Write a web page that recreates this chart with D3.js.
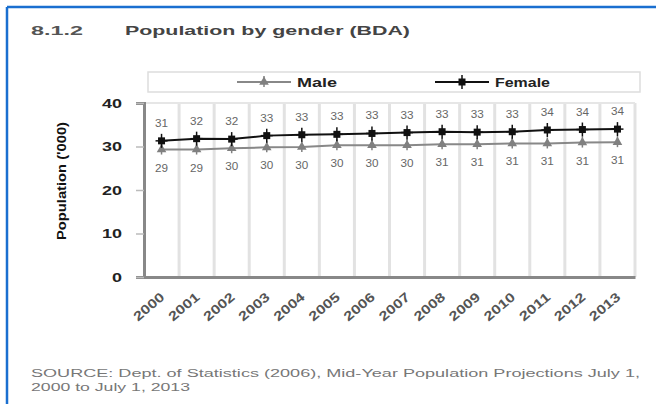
<!DOCTYPE html>
<html><head><meta charset="utf-8">
<script src="https://cdn.jsdelivr.net/npm/d3@7"></script>
<style>
html,body{margin:0;padding:0;background:#fff;}
svg{display:block;font-family:"Liberation Sans",Arial,sans-serif;}
</style></head>
<body>
<script>
const years = ["2000","2001","2002","2003","2004","2005","2006","2007","2008","2009","2010","2011","2012","2013"];
const male = [29.3, 29.3, 29.6, 29.8, 29.9, 30.3, 30.3, 30.3, 30.5, 30.5, 30.7, 30.7, 30.9, 31.0];
const female = [31.3, 31.8, 31.7, 32.5, 32.7, 32.8, 33.0, 33.2, 33.4, 33.3, 33.4, 33.8, 33.9, 34.0];
const yTicks = [0, 10, 20, 30, 40];
const seriesNames = ["Male", "Female"];

const W = 656, H = 404;
const svg = d3.select("body").append("svg").attr("width", W).attr("height", H);

// blue frame (top & left)
svg.append("line").attr("x1",7).attr("x2",W).attr("y1",7).attr("y2",7).attr("stroke","#1a6fd0").attr("stroke-width",2.5);
svg.append("line").attr("x1",7).attr("x2",7).attr("y1",7).attr("y2",H).attr("stroke","#1a6fd0").attr("stroke-width",2.5);

// title
svg.append("text").attr("x",31).attr("y",35).attr("font-size",13).attr("font-weight","bold").attr("fill","#555")
  .attr("textLength",52).attr("lengthAdjust","spacingAndGlyphs").text("8.1.2");
svg.append("text").attr("x",125).attr("y",35).attr("font-size",13).attr("font-weight","bold").attr("fill","#444")
  .attr("textLength",285).attr("lengthAdjust","spacingAndGlyphs").text("Population by gender (BDA)");

const m = {l:144, r:635, t:103, b:277};
const x = d3.scaleBand().domain(years).range([m.l, m.r]);
const y = d3.scaleLinear().domain([0,40]).range([m.b, m.t]);
const cx = d => x(d) + x.bandwidth()/2;

// vertical gridlines
const g = svg.append("g");
g.selectAll("line.vg").data(years).enter().append("line")
  .attr("x1", d => x(d) + x.bandwidth()).attr("x2", d => x(d) + x.bandwidth())
  .attr("y1", m.t).attr("y2", m.b).attr("stroke","#e2e2e2").attr("stroke-width",3);
g.append("line").attr("x1",m.l).attr("x2",m.r).attr("y1",m.t).attr("y2",m.t).attr("stroke","#e6e6e6").attr("stroke-width",2);

// y axis
const yAxis = d3.axisLeft(y).tickValues(yTicks).tickSize(8).tickPadding(14);
const ya = svg.append("g").attr("transform",`translate(${m.l},0)`).call(yAxis);
ya.select(".domain").attr("stroke","#888").attr("stroke-width",3);
ya.selectAll(".tick line").attr("stroke","#bbb").attr("stroke-width",1.5);
ya.selectAll(".tick text").attr("font-size",13).attr("font-weight","bold").attr("fill","#222").attr("font-family","Liberation Sans, Arial, sans-serif")
  .each(function(d){ d3.select(this).attr("textLength", String(d).length*10).attr("lengthAdjust","spacingAndGlyphs"); });

// x axis
const xAxis = d3.axisBottom(x).tickSize(0).tickPadding(0);
const xa = svg.append("g").attr("transform",`translate(0,${m.b})`).call(xAxis);
xa.select(".domain").attr("stroke","#888").attr("stroke-width",3);
xa.selectAll(".tick text")
  .attr("font-size",13).attr("font-weight","bold").attr("fill","#555").attr("font-family","Liberation Sans, Arial, sans-serif")
  .attr("text-anchor","end").attr("dy","0.35em")
  .attr("textLength",36).attr("lengthAdjust","spacingAndGlyphs")
  .attr("transform","translate(1,18) rotate(-40)");

// y axis title
svg.append("text").attr("transform",`translate(66,${(m.t+m.b)/2 - 9}) rotate(-90)`)
  .attr("text-anchor","middle").attr("font-size",12).attr("font-weight","bold").attr("fill","#111")
  .attr("textLength",118).attr("lengthAdjust","spacingAndGlyphs")
  .text("Population ('000)");

// lines
const line = d3.line().x((d,i) => cx(years[i])).y(d => y(d));
svg.append("path").datum(male).attr("d",line).attr("fill","none").attr("stroke","#888").attr("stroke-width",2);
svg.append("path").datum(female).attr("d",line).attr("fill","none").attr("stroke","#111").attr("stroke-width",2);

const tri = d3.symbol().type(d3.symbolTriangle).size(40);
function maleMarker(sel){
  sel.append("path").attr("d", tri()).attr("fill","#808080");
  sel.append("line").attr("x1",0).attr("x2",0).attr("y1",-6).attr("y2",5).attr("stroke","#808080").attr("stroke-width",1.5);
}
function femaleMarker(sel){
  sel.append("rect").attr("x",-3.5).attr("y",-3.5).attr("width",7).attr("height",7).attr("fill","#111");
  sel.append("line").attr("x1",0).attr("x2",0).attr("y1",-7).attr("y2",7).attr("stroke","#111").attr("stroke-width",1.5);
  sel.append("line").attr("x1",-6).attr("x2",6).attr("y1",0).attr("y2",0).attr("stroke","#111").attr("stroke-width",1.5);
}
svg.selectAll("g.mm").data(male).enter().append("g")
  .attr("transform",(d,i)=>`translate(${cx(years[i])},${y(d)})`).each(function(){maleMarker(d3.select(this));});
svg.selectAll("g.fm").data(female).enter().append("g")
  .attr("transform",(d,i)=>`translate(${cx(years[i])},${y(d)})`).each(function(){femaleMarker(d3.select(this));});

// data labels
const fmt = d3.format(".0f");
svg.selectAll("text.fl").data(female).enter().append("text")
  .attr("x",(d,i)=>cx(years[i])).attr("y",d=>y(d)-14).attr("text-anchor","middle")
  .attr("font-size",10).attr("fill","#666").attr("textLength",13).attr("lengthAdjust","spacingAndGlyphs").text(d=>fmt(d));
svg.selectAll("text.ml").data(male).enter().append("text")
  .attr("x",(d,i)=>cx(years[i])).attr("y",d=>y(d)+22).attr("text-anchor","middle")
  .attr("font-size",10).attr("fill","#666").attr("textLength",13).attr("lengthAdjust","spacingAndGlyphs").text(d=>fmt(d));

// legend
svg.append("rect").attr("x",148).attr("y",72).attr("width",492).attr("height",20).attr("fill","#fff").attr("stroke","#ddd").attr("stroke-width",1.5);
const lg = [{name:seriesNames[0], x:237, color:"#888", mk:maleMarker, w:40},{name:seriesNames[1], x:435, color:"#111", mk:femaleMarker, w:55}];
lg.forEach(s=>{
  svg.append("line").attr("x1",s.x).attr("x2",s.x+54).attr("y1",82).attr("y2",82).attr("stroke",s.color).attr("stroke-width",2);
  s.mk(svg.append("g").attr("transform",`translate(${s.x+27},82)`));
  svg.append("text").attr("x",s.x+60).attr("y",87).attr("font-size",13).attr("font-weight","bold").attr("fill","#222")
    .attr("textLength",s.w).attr("lengthAdjust","spacingAndGlyphs").text(s.name);
});

// source
svg.append("text").attr("x",31).attr("y",377).attr("font-size",10).attr("fill","#777")
  .attr("textLength",609).attr("lengthAdjust","spacingAndGlyphs")
  .text("SOURCE: Dept. of Statistics (2006), Mid-Year Population Projections July 1,");
svg.append("text").attr("x",31).attr("y",391).attr("font-size",10).attr("fill","#777")
  .attr("textLength",159).attr("lengthAdjust","spacingAndGlyphs")
  .text("2000 to July 1, 2013");
</script>
</body></html>
